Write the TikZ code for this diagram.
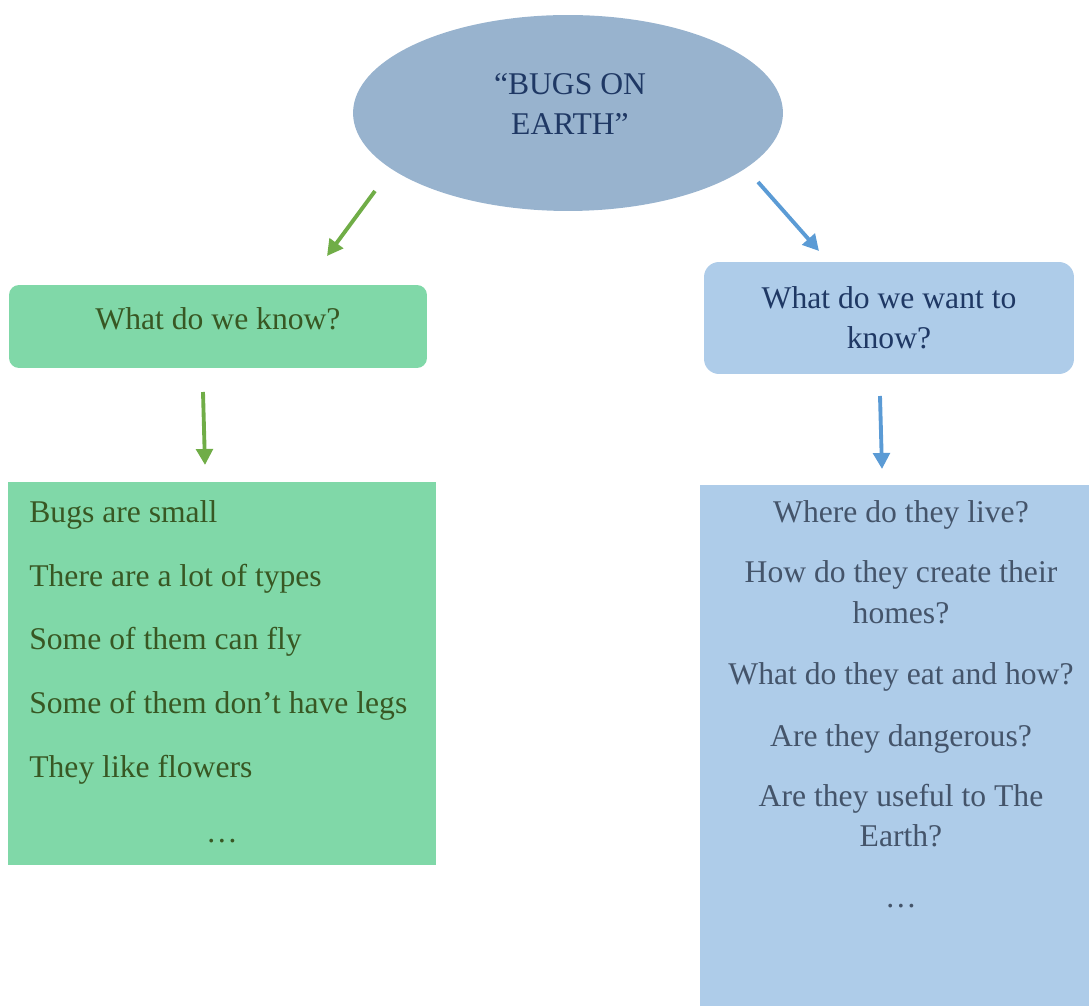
\documentclass[tikz,border=0pt]{standalone}
\usepackage{fontspec}
\setmainfont{Liberation Serif}
\usetikzlibrary{arrows.meta,shapes.geometric}
\definecolor{topicfill}{HTML}{98B3CE}
\definecolor{topictext}{HTML}{1F3864}
\definecolor{knowfill}{HTML}{80D8A8}
\definecolor{knowtext}{HTML}{385723}
\definecolor{knowarrow}{HTML}{70AD47}
\definecolor{wantfill}{HTML}{AECCE9}
\definecolor{wanttext}{HTML}{44546A}
\definecolor{wantarrow}{HTML}{5B9BD5}
\tikzset{
  bodytext/.style={font=\fontsize{18}{22.7}\selectfont, inner sep=0pt},
  topic/.style={ellipse, fill=topicfill, minimum width=8.6cm, minimum height=3.92cm, inner sep=0pt},
  knowbox/.style={bodytext, rounded corners=0.2cm, fill=knowfill, text=knowtext,
    minimum width=8.36cm, minimum height=1.66cm, text height=0.33cm, text depth=0.21cm},
  wantbox/.style={bodytext, rounded corners=0.3cm, fill=wantfill, text=topictext, align=center,
    minimum width=7.4cm, minimum height=2.24cm},
  knowlist/.style={fill=knowfill, inner sep=0pt, minimum width=8.56cm, minimum height=7.66cm},
  wantlist/.style={fill=wantfill, inner sep=0pt, minimum width=7.78cm, minimum height=10.42cm},
  knowitem/.style={bodytext, text=knowtext},
  wantitem/.style={bodytext, text=wanttext},
  knowarr/.style={-{Triangle[length=0.32cm, width=0.33cm]}, line width=2.2pt, draw=knowarrow},
  wantarr/.style={-{Triangle[length=0.32cm, width=0.33cm]}, line width=2.2pt, draw=wantarrow}
}
\begin{document}
\begin{tikzpicture}[x=0.02cm,y=-0.02cm]
  \useasboundingbox (0,0) rectangle (1089,1006);
  % topic
  \node[topic] (earth) at (568,113) {};
  \node[bodytext, text=topictext, align=center] (title) at (570,104) {“BUGS ON\\EARTH”};
  % the two questions
  \node[knowbox] (know) at (218,326.5) {What do we know?};
  \node[wantbox] (want) at (889,318) {What do we want to\\know?};
  % lists
  \node[knowlist] (knownlist) at (222,673.5) {};
  \node[wantlist] (wantedlist) at (894.5,745.5) {};
  \foreach \y/\t [count=\i] in {523/Bugs are small, 587/There are a lot of types,
      650/Some of them can fly, 713/Some of them don’t have legs, 777/They like flowers}
    \node[knowitem, anchor=base west] (known\i) at (29,\y) {\t};
  \node[knowitem, anchor=base] (knownmore) at (222,842) {…};
  \foreach \y/\t [count=\i] in {523/Where do they live?, 583/How do they create their,
      623/homes?, 684/What do they eat and how?, 746/Are they dangerous?,
      806/Are they useful to The, 846/Earth?, 907/…}
    \node[wantitem, anchor=base] (wanted\i) at (901,\y) {\t};
  % arrows
  \coordinate (knowfrom) at (375,191);
  \coordinate (knowto) at (327,256);
  \coordinate (wantfrom) at (758,182);
  \coordinate (wantto) at (819,251);
  \coordinate (listfrom) at (203,392);
  \coordinate (listto) at (205,465);
  \coordinate (qfrom) at (880,396);
  \coordinate (qto) at (882,469);
  \draw[knowarr] (knowfrom) -- (knowto);
  \draw[wantarr] (wantfrom) -- (wantto);
  \draw[knowarr] (listfrom) -- (listto);
  \draw[wantarr] (qfrom) -- (qto);
\end{tikzpicture}
\end{document}
